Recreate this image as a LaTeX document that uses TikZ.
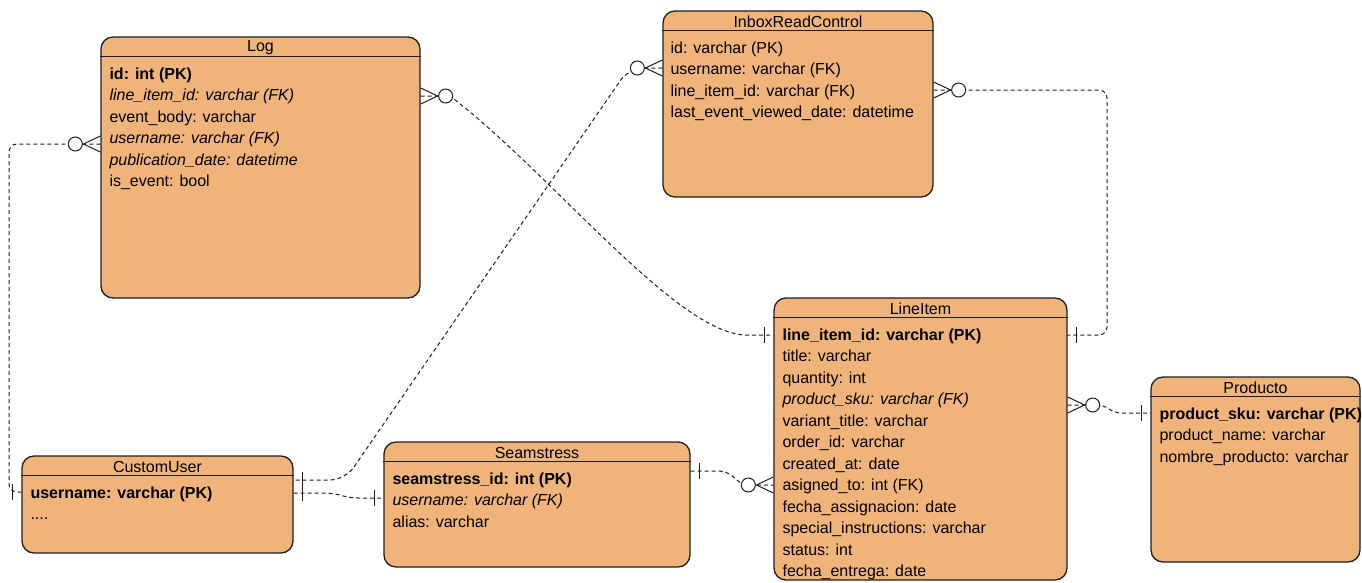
\documentclass[tikz,border=0pt]{standalone}
\usepackage{fontspec}
\setmainfont{Liberation Sans}

\definecolor{entfill}{RGB}{240,180,122}
\definecolor{entline}{RGB}{30,30,30}

\tikzset{
	entity/.style={draw=entline, fill=entfill, line width=1.3pt, rounded corners=12pt, inner sep=0pt},
	enttitle/.style={inner sep=0pt, font=\fontsize{16}{19}\selectfont},
	entrows/.style={anchor=north west, align=left, inner sep=0pt, font=\fontsize{16}{21.5}\selectfont},
	hdrline/.style={draw=entline, line width=1.3pt},
	rel/.style={draw=entline, line width=1pt, dash pattern=on 4pt off 3pt},
	% zero-or-many end and exactly-one end, drawn pointing along +x
	pics/zeromany/.style={code={
		\draw[entline, line width=1pt] (0,8) -- (17,0) -- (0,-8);
		\draw[entline, line width=1pt, fill=white] (25,0) circle[radius=7pt];
	}},
	pics/onlyone/.style={code={
		\draw[entline, line width=1pt] (9,8) -- (9,-8);
	}},
}

\begin{document}
\begin{tikzpicture}[x=1pt, y=-1pt]
	\useasboundingbox (0,0) rectangle (1362,582);

	% tables
	\node[entity, minimum width=319pt, minimum height=261pt] (log) at (260.5,167.5) {};
	\node[entity, minimum width=270pt, minimum height=186pt] (inbox) at (798,104) {};
	\node[entity, minimum width=293pt, minimum height=282pt] (li) at (920.5,439) {};
	\node[entity, minimum width=209pt, minimum height=185pt] (prod) at (1255.5,469.5) {};
	\node[entity, minimum width=271pt, minimum height=97pt] (cu) at (157.5,504.5) {};
	\node[entity, minimum width=306pt, minimum height=125pt] (sm) at (537,504.5) {};

	\foreach \e/\t in {log/Log, inbox/InboxReadControl, li/LineItem, prod/Producto, cu/CustomUser, sm/Seamstress}{
		\node[enttitle] (\e-t) at ([yshift=-11.5pt]\e.north) {\t};
		\draw[hdrline] ([yshift=-20pt]\e.north west) -- ([yshift=-20pt]\e.north east);
	}

	% columns
	\node[entrows] (log-r) at ([xshift=9pt,yshift=-31pt]log.north west)
		{\textbf{id: int (PK)}\\ \textit{line\_item\_id: varchar (FK)}\\ event\_body: varchar\\
		 \textit{username: varchar (FK)}\\ \textit{publication\_date: datetime}\\ is\_event: bool};
	\node[entrows] (inbox-r) at ([xshift=8pt,yshift=-31pt]inbox.north west)
		{id: varchar (PK)\\ username: varchar (FK)\\ line\_item\_id: varchar (FK)\\ last\_event\_viewed\_date: datetime};
	\node[entrows] (li-r) at ([xshift=9pt,yshift=-31pt]li.north west)
		{\textbf{line\_item\_id: varchar (PK)}\\ title: varchar\\ quantity: int\\ \textit{product\_sku: varchar (FK)}\\
		 variant\_title: varchar\\ order\_id: varchar\\ created\_at: date\\ asigned\_to: int (FK)\\
		 fecha\_assignacion: date\\ special\_instructions: varchar\\ status: int\\ fecha\_entrega: date};
	\node[entrows] (prod-r) at ([xshift=9pt,yshift=-31pt]prod.north west)
		{\textbf{product\_sku: varchar (PK)}\\ product\_name: varchar\\ nombre\_producto: varchar};
	\node[entrows] (cu-r) at ([xshift=9pt,yshift=-31pt]cu.north west)
		{\textbf{username: varchar (PK)}\\ ....};
	\node[entrows] (sm-r) at ([xshift=9pt,yshift=-31pt]sm.north west)
		{\textbf{seamstress\_id: int (PK)}\\ \textit{username: varchar (FK)}\\ alias: varchar};

	% attachment points on the table borders
	\coordinate (log-e) at (log.east |- 0,96);
	\coordinate (log-w) at (log.west |- 0,144);
	\coordinate (inbox-w) at (inbox.west |- 0,68);
	\coordinate (inbox-e) at (inbox.east |- 0,90);
	\coordinate (li-w1) at (li.west |- 0,335);
	\coordinate (li-w2) at (li.west |- 0,485);
	\coordinate (li-e1) at (li.east |- 0,335);
	\coordinate (li-e2) at (li.east |- 0,405);
	\coordinate (prod-w) at (prod.west |- 0,413);
	\coordinate (cu-w) at (cu.west |- 0,492);
	\coordinate (cu-e1) at (cu.east |- 0,480);
	\coordinate (cu-e2) at (cu.east |- 0,493);
	\coordinate (sm-w) at (sm.west |- 0,498);
	\coordinate (sm-e) at (sm.east |- 0,471);

	% relations
	\draw[rel] (log-e) -- (450,96) .. controls (550,172) and (675,332) .. (745,335) -- (li-w1);
	\draw[rel, rounded corners=8pt] (log-w) -- (9,144) -- (9,492) -- (cu-w);
	\draw[rel, rounded corners=15pt] (inbox-w) -- (629,68) -- (345,480) -- (cu-e1);
	\draw[rel, rounded corners=8pt] (inbox-e) -- (1107,90) -- (1107,335) -- (li-e1);
	\draw[rel, rounded corners=8pt] (cu-e2) -- (333,493) -- (350,498) -- (sm-w);
	\draw[rel, rounded corners=8pt] (sm-e) -- (727,471) -- (742,485) -- (li-w2);
	\draw[rel, rounded corners=6pt] (li-e2) -- (1103,405) -- (1115,413) -- (prod-w);

	% relation ends
	\pic at (log-e) {zeromany};
	\pic[rotate=180] at (log-w) {zeromany};
	\pic[rotate=180] at (inbox-w) {zeromany};
	\pic at (inbox-e) {zeromany};
	\pic[rotate=180] at (li-w2) {zeromany};
	\pic at (li-e2) {zeromany};
	\pic[rotate=180] at (li-w1) {onlyone};
	\pic at (li-e1) {onlyone};
	\pic[rotate=180] at (prod-w) {onlyone};
	\pic[rotate=180] at (cu-w) {onlyone};
	\pic at (cu-e1) {onlyone};
	\pic at (cu-e2) {onlyone};
	\pic[rotate=180] at (sm-w) {onlyone};
	\pic at (sm-e) {onlyone};
\end{tikzpicture}
\end{document}
